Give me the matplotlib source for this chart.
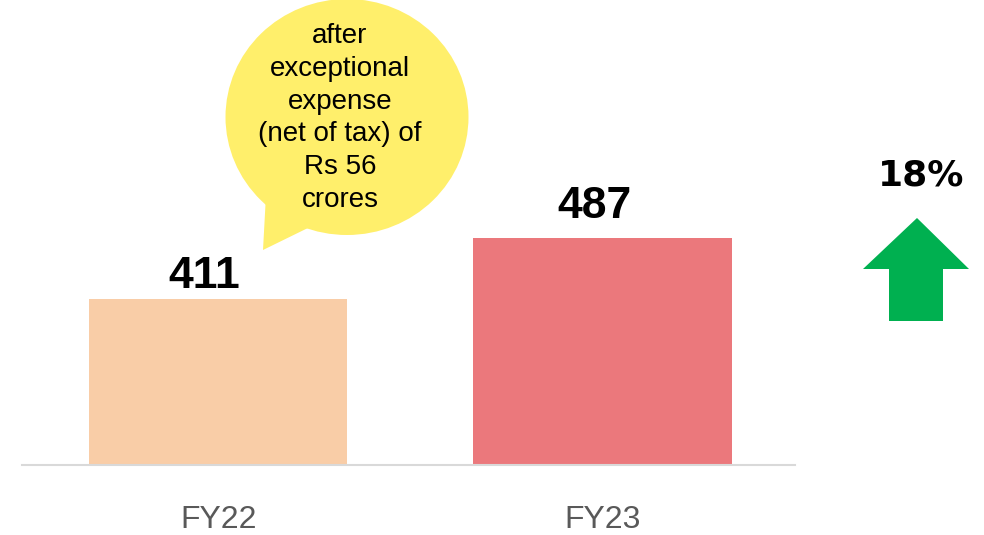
import matplotlib.pyplot as plt
from matplotlib.patches import Ellipse, Polygon

# -----------------------------------
# Data
# -----------------------------------
years = ["FY22", "FY23"]
profit = [411, 487]
bar_colors = ["#F9CDA7", "#EB787C"]
callout_text = "after\nexceptional\nexpense\n(net of tax) of\nRs 56\ncrores"

growth = round((profit[1] - profit[0]) / profit[0] * 100)

plt.rcParams["font.family"] = ["Liberation Sans", "DejaVu Sans"]

fig = plt.figure(figsize=(9.84, 5.35), dpi=100)
fig.patch.set_facecolor("white")

# main bar axes, placed in pixels of the 984x535 canvas
ax = fig.add_axes([22 / 984, 70 / 535, (795 - 22) / 984, 465 / 535])
x = range(len(years))
bars = ax.bar(x, profit, width=0.672, color=bar_colors)
ax.set_xlim(-0.51, 1.50)
ax.set_ylim(203, 785)

# value labels (small per-label nudges to sit like the original)
label_offsets = [(-14, 11), (-8, 20)]
for rect, val, off in zip(bars, profit, label_offsets):
    ax.annotate(str(val), (rect.get_x() + rect.get_width() / 2, val),
                xytext=off, textcoords="offset pixels", ha="center", va="baseline",
                fontsize=32, fontweight="bold", color="black")

ax.set_xticks(list(x))
ax.set_xticklabels(years, fontsize=23, color="#595959")
ax.tick_params(axis="x", length=0, pad=29)
ax.set_yticks([])
for s in ["top", "left", "right"]:
    ax.spines[s].set_visible(False)
ax.spines["bottom"].set_color("#D9D9D9")
ax.spines["bottom"].set_linewidth(1.5)

# -----------------------------------
# overlay for callout bubble and growth arrow (pixel coords)
# -----------------------------------
ov = fig.add_axes([0, 0, 1, 1], zorder=5)
ov.set_xlim(0, 984)
ov.set_ylim(535, 0)
ov.axis("off")

bubble = "#FFEF6B"
ov.add_patch(Ellipse((347, 117), 243, 236, color=bubble, lw=0))
ov.add_patch(Polygon([(266, 195), (263, 250), (312, 226)], closed=True, color=bubble, lw=0))
ov.text(340, 118, callout_text, ha="center", va="center", fontsize=20,
        linespacing=1.34, color="black")

ov.text(921, 176, f"{growth}%", ha="center", va="center", fontsize=26,
        fontweight="bold", family="DejaVu Sans", color="black")
arrow_pts = [(917, 218), (969, 269), (943, 269), (943, 321),
             (889, 321), (889, 269), (863, 269)]
ov.add_patch(Polygon(arrow_pts, closed=True, color="#00B050", lw=0))

fig.savefig("out.png", dpi=100)
